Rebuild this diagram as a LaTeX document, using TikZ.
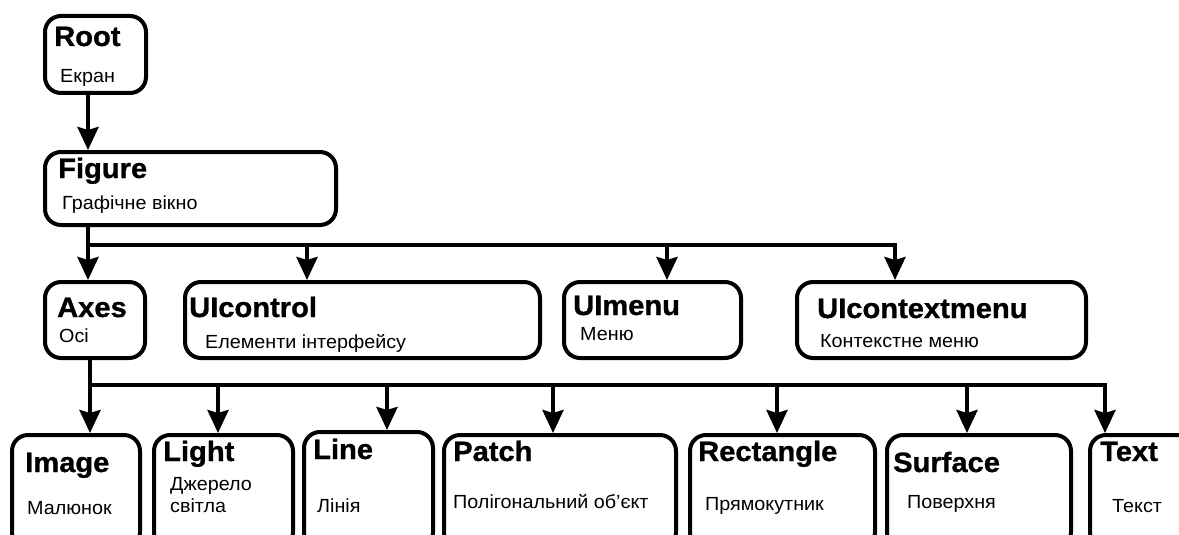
\documentclass[tikz,border=0pt]{standalone}
\usepackage{fontspec}
\setmainfont{Liberation Sans}
\newfontfamily\ttlfont{Liberation Sans}[FakeStretch=1.04, BoldFeatures={FakeBold=1}]
\newfontfamily\subfont{Liberation Sans}[FakeStretch=1.04]
\usetikzlibrary{arrows.meta}
\tikzset{
  box/.style={draw, line width=4pt, rounded corners=16pt, inner sep=0pt},
  ttl/.style={anchor=base west, inner sep=0pt, font=\ttlfont\fontsize{28}{28}\selectfont\bfseries},
  sub/.style={anchor=base west, inner sep=0pt, font=\subfont\fontsize{19}{22}\selectfont},
  arr/.style={line width=4pt, -{Stealth[length=23pt,width=21pt,inset=3pt]}}
}
\begin{document}
\begin{tikzpicture}[x=1pt,y=-1pt]
\useasboundingbox (0,0) rectangle (1179,535);
\clip (0,0) rectangle (1179,535);
% boxes
\node[box, minimum width=101pt, minimum height=77pt] (root) at (95.5,54.5) {};
\node[box, minimum width=291pt, minimum height=73pt] (fig) at (190.5,188.5) {};
\node[box, minimum width=100pt, minimum height=76pt] (axes) at (95,320) {};
\node[box, minimum width=355pt, minimum height=76pt] (uic) at (362.5,320) {};
\node[box, minimum width=177pt, minimum height=76pt] (uim) at (652.5,320) {};
\node[box, minimum width=289pt, minimum height=76pt] (ctx) at (941.5,320) {};
\node[box, minimum width=128pt, minimum height=113pt] (image) at (76,491.5) {};
\node[box, minimum width=139pt, minimum height=113pt] (light) at (223.5,491.5) {};
\node[box, minimum width=129pt, minimum height=116pt] (line) at (368.5,490) {};
\node[box, minimum width=232pt, minimum height=113pt] (patch) at (560,491.5) {};
\node[box, minimum width=185pt, minimum height=113pt] (rect) at (782.5,491.5) {};
\node[box, minimum width=184pt, minimum height=113pt] (surf) at (979,491.5) {};
\node[box, minimum width=108pt, minimum height=113pt] (text) at (1144,491.5) {};
% labels
\node[ttl] (rootT) at (54,46) {Root};
\node[sub] (rootS) at (60,82) {Екран};
\node[ttl] (figT) at (58,178) {Figure};
\node[sub] (figS) at (62,209) {Графічне вікно};
\node[ttl] (axesT) at (57,317) {Axes};
\node[sub] (axesS) at (59,342) {Осі};
\node[ttl] (uicT) at (189,317) {UIcontrol};
\node[sub] (uicS) at (205,348) {Елементи інтерфейсу};
\node[ttl] (uimT) at (573,315) {UImenu};
\node[sub] (uimS) at (580,340) {Меню};
\node[ttl] (ctxT) at (817,318) {UIcontextmenu};
\node[sub] (ctxS) at (820,347) {Контекстне меню};
\node[ttl] (imageT) at (25,472) {Image};
\node[sub] (imageS) at (27,514) {Малюнок};
\node[ttl] (lightT) at (163,461) {Light};
\node[sub, align=left] (lightS) at (170,512) {Джерело\\світла};
\node[ttl] (lineT) at (313,459) {Line};
\node[sub] (lineS) at (317,512) {Лінія};
\node[ttl] (patchT) at (453,461) {Patch};
\node[sub] (patchS) at (453,508) {Полігональний об’єкт};
\node[ttl] (rectT) at (698,461) {Rectangle};
\node[sub] (rectS) at (705,510) {Прямокутник};
\node[ttl] (surfT) at (893,472) {Surface};
\node[sub] (surfS) at (907,508) {Поверхня};
\node[ttl] (textT) at (1100,461) {Text};
\node[sub] (textS) at (1112,512) {Текст};
% bus coordinates
\coordinate (a) at (88,245);
\coordinate (b) at (307,245);
\coordinate (c) at (667,245);
\coordinate (d) at (895,245);
\coordinate (p1) at (90,385);
\coordinate (p2) at (218,385);
\coordinate (p3) at (387,385);
\coordinate (p4) at (553,385);
\coordinate (p5) at (777,385);
\coordinate (p6) at (967,385);
\coordinate (p7) at (1105,385);
% connectors
\draw[arr] (root.south -| a) -- (fig.north -| a);
\draw[arr] (fig.south -| a) -- (a) -- (d) -- (ctx.north -| d);
\draw[arr] (a) -- (axes.north -| a);
\draw[arr] (b) -- (uic.north -| b);
\draw[arr] (c) -- (uim.north -| c);
\draw[arr] (axes.south -| p1) -- (p1) -- (p7) -- (text.north -| p7);
\draw[arr] (p1) -- (image.north -| p1);
\draw[arr] (p2) -- (light.north -| p2);
\draw[arr] (p3) -- (line.north -| p3);
\draw[arr] (p4) -- (patch.north -| p4);
\draw[arr] (p5) -- (rect.north -| p5);
\draw[arr] (p6) -- (surf.north -| p6);
\end{tikzpicture}
\end{document}
